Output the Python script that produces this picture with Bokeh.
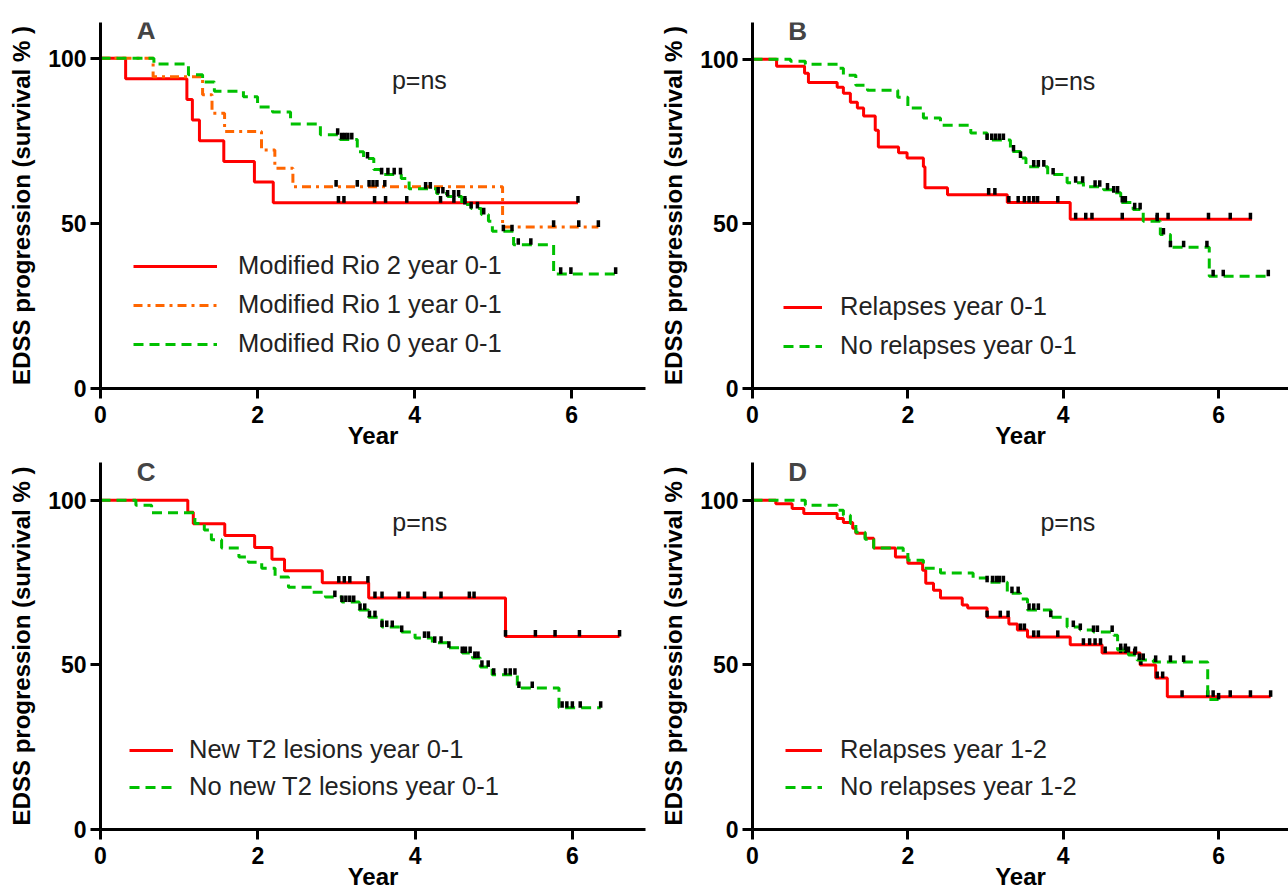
import numpy as np
from bokeh.plotting import figure
from bokeh.models import Range1d, FixedTicker, Legend, LegendItem, Label
from bokeh.layouts import gridplot
from bokeh.embed import file_html
from bokeh.resources import INLINE

FONT = "Liberation Sans"
RED = "#FF0000"
ORANGE = "#FF6600"
GREEN = "#00C000"

# ---------------- Panel A ----------------
a_rio2_t = [0, 0.32, 1.10, 1.17, 1.26, 1.57, 1.96, 2.20, 6.08]
a_rio2_s = [100, 93.75, 87.5, 81.25, 75.0, 68.75, 62.5, 56.25, 56.25]
a_rio2_c = [3.03, 3.10, 3.49, 3.63, 3.90, 4.33, 4.50, 4.64, 6.08]

a_rio1_t = [0, 0.67, 1.30, 1.42, 1.58, 2.05, 2.22, 2.45, 5.12, 6.34]
a_rio1_s = [100, 94.4, 88.9, 83.3, 77.8, 72.2, 66.7, 61.1, 48.9, 48.9]
a_rio1_c = [3.00, 3.27, 3.42, 3.47, 3.52, 3.62, 5.77, 6.09, 6.34]

a_rio0_t = [0, 0.68, 1.12, 1.30, 1.45, 1.82, 2.00, 2.19, 2.42, 2.80, 3.05, 3.27, 3.35,
            3.48, 3.57, 3.83, 3.93, 4.28, 4.42, 4.60, 4.72, 4.85, 4.94, 4.99, 5.26, 5.77, 6.58]
a_rio0_s = [100, 98.2, 95.0, 92.8, 90.0, 88.3, 85.2, 83.7, 80.1, 76.8, 75.4, 71.7, 69.6,
            66.3, 64.8, 63.6, 60.5, 59.0, 58.1, 55.7, 54.5, 52.7, 50.6, 47.6, 43.5, 34.7, 34.7]
a_rio0_c = [3.02, 3.07, 3.11, 3.15, 3.20, 3.40, 3.58, 3.66, 3.74, 3.82, 4.14, 4.20, 4.30,
            4.36, 4.42, 4.50, 4.56, 4.64, 4.72, 4.80, 4.88, 5.13, 5.24, 5.32, 5.48, 5.86,
            5.99, 6.56]

# ---------------- Panel B ----------------
b_rel_t = [0, 0.31, 0.67, 0.72, 1.09, 1.17, 1.26, 1.35, 1.43, 1.58, 1.62, 1.88, 1.99,
           2.20, 2.22, 2.51, 3.28, 4.09, 6.43]
b_rel_s = [100, 97.9, 95.8, 93.0, 91.5, 89.7, 87.0, 85.2, 82.8, 78.5, 73.4, 71.6, 70.0,
           67.4, 61.0, 58.9, 56.5, 51.4, 51.4]
b_rel_c = [3.04, 3.12, 3.30, 3.42, 3.50, 3.56, 3.62, 3.67, 3.93, 4.16, 4.29, 4.37, 4.76,
           5.21, 5.35, 5.87, 6.15, 6.41]

b_norel_t = [0, 0.49, 0.68, 1.11, 1.17, 1.33, 1.48, 1.87, 2.00, 2.20, 2.42, 2.81, 3.02,
             3.32, 3.45, 3.52, 3.80, 4.05, 4.26, 4.52, 4.65, 4.74, 4.90, 5.03, 5.25, 5.38,
             5.88, 6.67]
b_norel_s = [100, 99.4, 98.5, 97.3, 95.2, 92.1, 90.6, 88.5, 85.2, 82.2, 80.0, 77.6, 75.5,
             72.0, 70.0, 67.4, 65.0, 62.5, 61.3, 60.4, 59.5, 56.5, 54.4, 50.8, 46.8, 42.9,
             34.1, 34.1]
b_norel_c = [3.02, 3.08, 3.13, 3.18, 3.23, 3.36, 3.45, 3.62, 3.68, 3.75, 3.87, 4.16, 4.25,
             4.41, 4.47, 4.57, 4.65, 4.70, 4.76, 4.80, 4.92, 4.99, 5.21, 5.29, 5.38, 5.55,
             5.85, 5.93, 6.06, 6.64]

# ---------------- Panel C ----------------
c_t2_t = [0, 1.11, 1.18, 1.58, 1.96, 2.18, 2.34, 2.82, 3.41, 5.15, 6.60]
c_t2_s = [100, 96.4, 92.9, 89.3, 85.7, 82.1, 78.6, 75.0, 70.3, 58.6, 58.6]
c_t2_c = [3.03, 3.10, 3.17, 3.40, 3.49, 3.58, 3.80, 3.91, 4.12, 4.33, 4.69, 4.75, 5.15,
          5.53, 5.78, 6.09, 6.60]

c_not2_t = [0, 0.45, 0.65, 1.20, 1.32, 1.41, 1.54, 1.76, 1.88, 2.05, 2.22, 2.39, 2.69,
            2.86, 3.07, 3.29, 3.41, 3.58, 3.83, 4.00, 4.22, 4.43, 4.60, 4.73, 4.83, 4.98,
            5.30, 5.83, 6.36]
c_not2_s = [100, 98.5, 96.2, 93.0, 91.0, 88.0, 85.5, 82.8, 81.2, 79.4, 76.7, 73.6, 72.1,
            70.6, 69.1, 66.7, 64.5, 61.5, 60.0, 58.2, 56.7, 55.2, 53.6, 52.1, 49.4, 47.0,
            43.0, 37.0, 37.0]
c_not2_c = [2.98, 3.07, 3.12, 3.17, 3.22, 3.30, 3.36, 3.42, 3.49, 3.58, 3.64, 3.71, 3.83,
            4.12, 4.17, 4.25, 4.33, 4.43, 4.60, 4.64, 4.70, 4.76, 4.80, 4.85, 4.93, 5.00,
            5.15, 5.21, 5.27, 5.32, 5.49, 5.87, 5.93, 6.00, 6.10, 6.36]

# ---------------- Panel D ----------------
d_rel_t = [0, 0.30, 0.51, 0.66, 1.09, 1.17, 1.29, 1.33, 1.45, 1.56, 1.84, 2.00, 2.19,
           2.23, 2.33, 2.42, 2.70, 2.77, 3.02, 3.30, 3.41, 3.54, 4.09, 4.50, 4.99, 5.19,
           5.34, 6.67]
d_rel_s = [100, 99.0, 97.5, 96.0, 94.5, 93.3, 91.5, 90.0, 88.5, 85.5, 82.8, 80.9, 78.8,
           74.8, 72.7, 70.3, 68.2, 67.3, 64.5, 62.4, 60.6, 58.5, 56.1, 53.6, 50.0, 46.0,
           40.3, 40.3]
d_rel_c = [3.02, 3.19, 3.29, 3.45, 3.50, 3.62, 3.68, 3.93, 4.26, 4.34, 4.41, 4.48, 4.54,
           4.74, 4.80, 4.84, 4.93, 5.00, 5.21, 5.28, 5.53, 5.86, 5.93, 6.15, 6.41, 6.67]

d_norel_t = [0, 0.68, 1.09, 1.17, 1.26, 1.33, 1.45, 1.56, 1.94, 2.00, 2.20, 2.42, 2.84,
             3.02, 3.28, 3.45, 3.54, 3.84, 4.05, 4.22, 4.39, 4.65, 4.70, 4.84, 4.95, 5.16,
             5.86, 6.00]
d_norel_s = [100, 98.5, 97.0, 95.5, 93.0, 90.3, 88.2, 85.5, 84.2, 81.8, 79.4, 77.9, 76.4,
             75.1, 71.8, 70.0, 66.7, 64.5, 61.5, 60.6, 60.0, 59.0, 54.5, 53.0, 51.5, 50.9,
             39.5, 39.5]
d_norel_c = [3.02, 3.09, 3.14, 3.18, 3.23, 3.34, 3.42, 3.56, 3.62, 3.68, 3.84, 4.13, 4.22,
             4.39, 4.44, 4.63, 4.74, 4.80, 4.92, 4.98, 5.03, 5.19, 5.38, 5.55, 6.00]

x_ticks = [0, 2, 4, 6]
y_ticks = [0, 50, 100]


def censor_y(t, s, c):
    t = np.asarray(t, dtype=float)
    s = np.asarray(s, dtype=float)
    idx = np.searchsorted(t, np.asarray(c, dtype=float), side="right") - 1
    idx = np.clip(idx, 0, len(s) - 1)
    return s[idx]


def make_panel(letter, curves, geom, leg):
    (w, h, bl, br, bt, bb, xmax, ymax) = geom
    p = figure(width=w, height=h, x_range=Range1d(0, xmax), y_range=Range1d(0, ymax),
               output_backend="svg", toolbar_location=None,
               min_border_left=bl, min_border_right=br, min_border_top=bt,
               min_border_bottom=bb)
    p.outline_line_color = None
    p.xgrid.visible = False
    p.ygrid.visible = False
    p.background_fill_color = "white"
    p.border_fill_color = "white"
    p.xaxis.ticker = FixedTicker(ticks=x_ticks)
    p.yaxis.ticker = FixedTicker(ticks=y_ticks)
    for ax in (p.xaxis, p.yaxis):
        ax.axis_line_width = 3
        ax.axis_line_color = "black"
        ax.major_tick_line_width = 3
        ax.major_tick_line_color = "black"
        ax.major_tick_out = 10
        ax.major_tick_in = 0
        ax.minor_tick_line_color = None
        ax.major_label_text_font = FONT
        ax.major_label_text_font_size = "23px"
        ax.major_label_text_font_style = "bold"
        ax.major_label_text_color = "black"
        ax.axis_label_text_font = FONT
        ax.axis_label_text_font_size = "24px"
        ax.axis_label_text_font_style = "bold"
        ax.axis_label_text_color = "black"
    p.xaxis.axis_label = "Year"
    p.xaxis.major_label_standoff = 7
    p.xaxis.axis_label_standoff = -4
    p.yaxis.axis_label = "EDSS progression (survival % )"
    p.yaxis.major_label_standoff = 4
    p.yaxis.axis_label_standoff = 10

    items = []
    for (label, t, s, c, color, dash) in curves:
        r = p.step(x=t, y=s, mode="after", line_color=color, line_width=3,
                   line_dash=dash)
        cy = censor_y(t, s, c)
        p.segment(x0=c, y0=cy, x1=c, y1=cy + 2.0, line_color="black", line_width=3.5)
        items.append(LegendItem(label=label, renderers=[r]))

    (lx, ly, gw, stand, spacing) = leg
    legend = Legend(items=items, location=(lx, ly), glyph_width=gw, glyph_height=22,
                    label_height=22, label_standoff=stand, spacing=spacing,
                    padding=0, margin=0, border_line_color=None,
                    background_fill_alpha=0,
                    label_text_font=FONT, label_text_font_size="25.5px",
                    label_text_color="#222222")
    p.add_layout(legend)

    p.add_layout(Label(x=0.58, y=108.6, text=letter, text_font=FONT,
                       text_font_size="26px", text_font_style="bold",
                       text_align="center", text_baseline="middle"))
    p.add_layout(Label(x=4.06, y=93.5, text="p=ns", text_font=FONT,
                       text_font_size="25px", text_color="#222222",
                       text_align="center", text_baseline="middle"))
    return p


pA = make_panel("A", [
    ("Modified Rio 2 year 0-1", a_rio2_t, a_rio2_s, a_rio2_c, RED, "solid"),
    ("Modified Rio 1 year 0-1", a_rio1_t, a_rio1_s, a_rio1_c, ORANGE, "9 5 3 5"),
    ("Modified Rio 0 year 0-1", a_rio0_t, a_rio0_s, a_rio0_c, GREEN, "10 6"),
], (648, 456, 100, 3, 20, 68, 6.94, 110.8), (33, 30, 84, 21, 10))

pB = make_panel("B", [
    ("Relapses year 0-1", b_rel_t, b_rel_s, b_rel_c, RED, "solid"),
    ("No relapses year 0-1", b_norel_t, b_norel_s, b_norel_c, GREEN, "10 6"),
], (640, 456, 104, 0, 22, 66, 6.90, 111.2), (31, 28, 39, 18, 10))

pC = make_panel("C", [
    ("New T2 lesions year 0-1", c_t2_t, c_t2_s, c_t2_c, RED, "solid"),
    ("No new T2 lesions year 0-1", c_not2_t, c_not2_s, c_not2_c, GREEN, "10 6"),
], (648, 436, 99, 3, 6, 62, 6.93, 111.5), (29, 28, 44, 16, 8))

pD = make_panel("D", [
    ("Relapses year 1-2", d_rel_t, d_rel_s, d_rel_c, RED, "solid"),
    ("No relapses year 1-2", d_norel_t, d_norel_s, d_norel_c, GREEN, "10 6"),
], (640, 436, 104, 0, 6, 62, 6.90, 111.5), (33, 28, 37, 18, 8))

grid = gridplot([[pA, pB], [pC, pD]], toolbar_location=None)

open("out.html", "w").write(file_html(grid, INLINE))
